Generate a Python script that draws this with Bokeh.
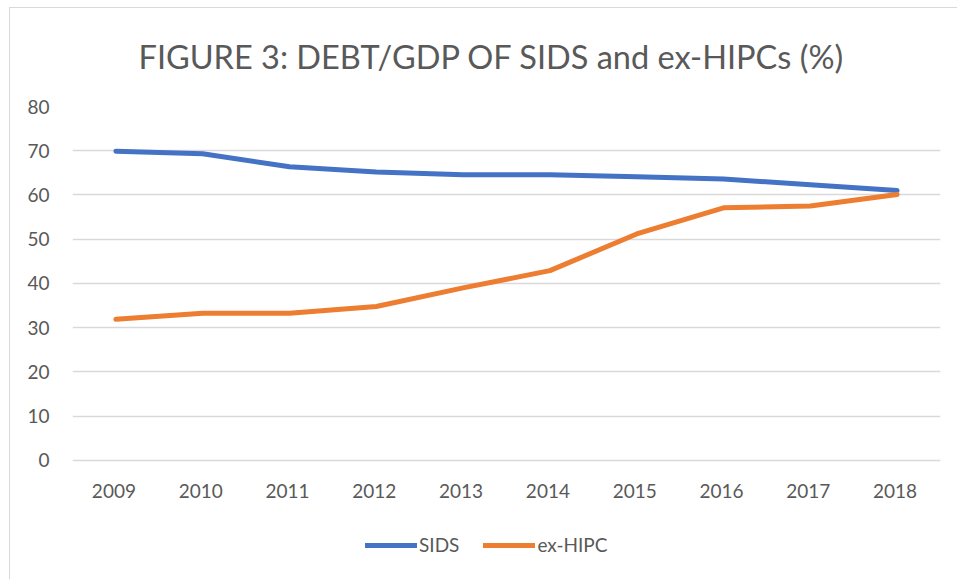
from bokeh.plotting import figure
from bokeh.models import Range1d, Legend, LegendItem, Title, InlineStyleSheet, FixedTicker
from bokeh.core.properties import value
from bokeh.embed import file_html
from bokeh.resources import INLINE

years = ["2009", "2010", "2011", "2012", "2013", "2014", "2015", "2016", "2017", "2018"]
sids = [69.9, 69.3, 66.4, 65.2, 64.6, 64.6, 64.1, 63.6, 62.3, 61.0]
ex_hipc = [31.9, 33.3, 33.3, 34.8, 39.0, 42.9, 51.2, 57.1, 57.5, 60.1]
y_ticks = [0, 10, 20, 30, 40, 50, 60, 70, 80]

FONT = "Lato"
TXT = "#595959"

# frame extends below the value axis so the legend can sit inside it; 0 maps to the baseline
p = figure(width=957, height=579, x_range=years, y_range=Range1d(-26.9, 80),
           output_backend="svg", toolbar_location=None, x_axis_location=None,
           frame_width=868, frame_height=473,
           min_border_left=72, min_border_right=17, min_border_top=106, min_border_bottom=0)
p.title = None
t = Title(text="FIGURE 3: DEBT/GDP OF SIDS and ex-HIPCs (%)", align="left", offset=66,
          text_font=FONT, text_font_size="32.5px", text_font_style="normal", text_color=TXT,
          standoff=61)
p.add_layout(t, "above")

p.outline_line_color = None
p.xgrid.grid_line_color = None
tick = FixedTicker(ticks=y_ticks)
p.yaxis.ticker = tick
p.ygrid.ticker = tick
p.ygrid.grid_line_color = "#D9D9D9"
p.ygrid.grid_line_width = 1.5
p.yaxis.axis_line_color = None
p.yaxis.major_tick_line_color = None
p.yaxis.minor_tick_line_color = None
p.yaxis.major_label_standoff = 17
p.yaxis.major_label_text_font = FONT
p.yaxis.major_label_text_font_size = "19px"
p.yaxis.major_label_text_color = TXT

# category labels under the baseline
p.text(x=years, y=[0] * len(years), text=years, text_align="center", text_baseline="middle",
       x_offset=-2, y_offset=31, text_font=value(FONT), text_font_size=value("19px"),
       text_color=TXT)

r1 = p.line(years, sids, line_color="#4472C4", line_width=5, line_cap="round", line_join="round")
r2 = p.line(years, ex_hipc, line_color="#ED7D31", line_width=5, line_cap="round", line_join="round")

legend = Legend(items=[LegendItem(label="SIDS", renderers=[r1]),
                       LegendItem(label="ex-HIPC", renderers=[r2])],
                orientation="horizontal", location=(293, 23),
                glyph_width=52, glyph_height=20, label_standoff=2, spacing=24,
                label_text_font=FONT, label_text_font_size="19px", label_text_color=TXT,
                background_fill_alpha=0, border_line_color=None, padding=0, margin=0)
p.add_layout(legend, "center")

p.stylesheets = [InlineStyleSheet(css=":host { position: relative; } :host::after { content: ''; position: absolute; left: 9px; top: 7px; right: -30px; bottom: -30px; border: 1px solid #D9D9D9; pointer-events: none; }")]

open("out.html", "w").write(file_html(p, INLINE))
